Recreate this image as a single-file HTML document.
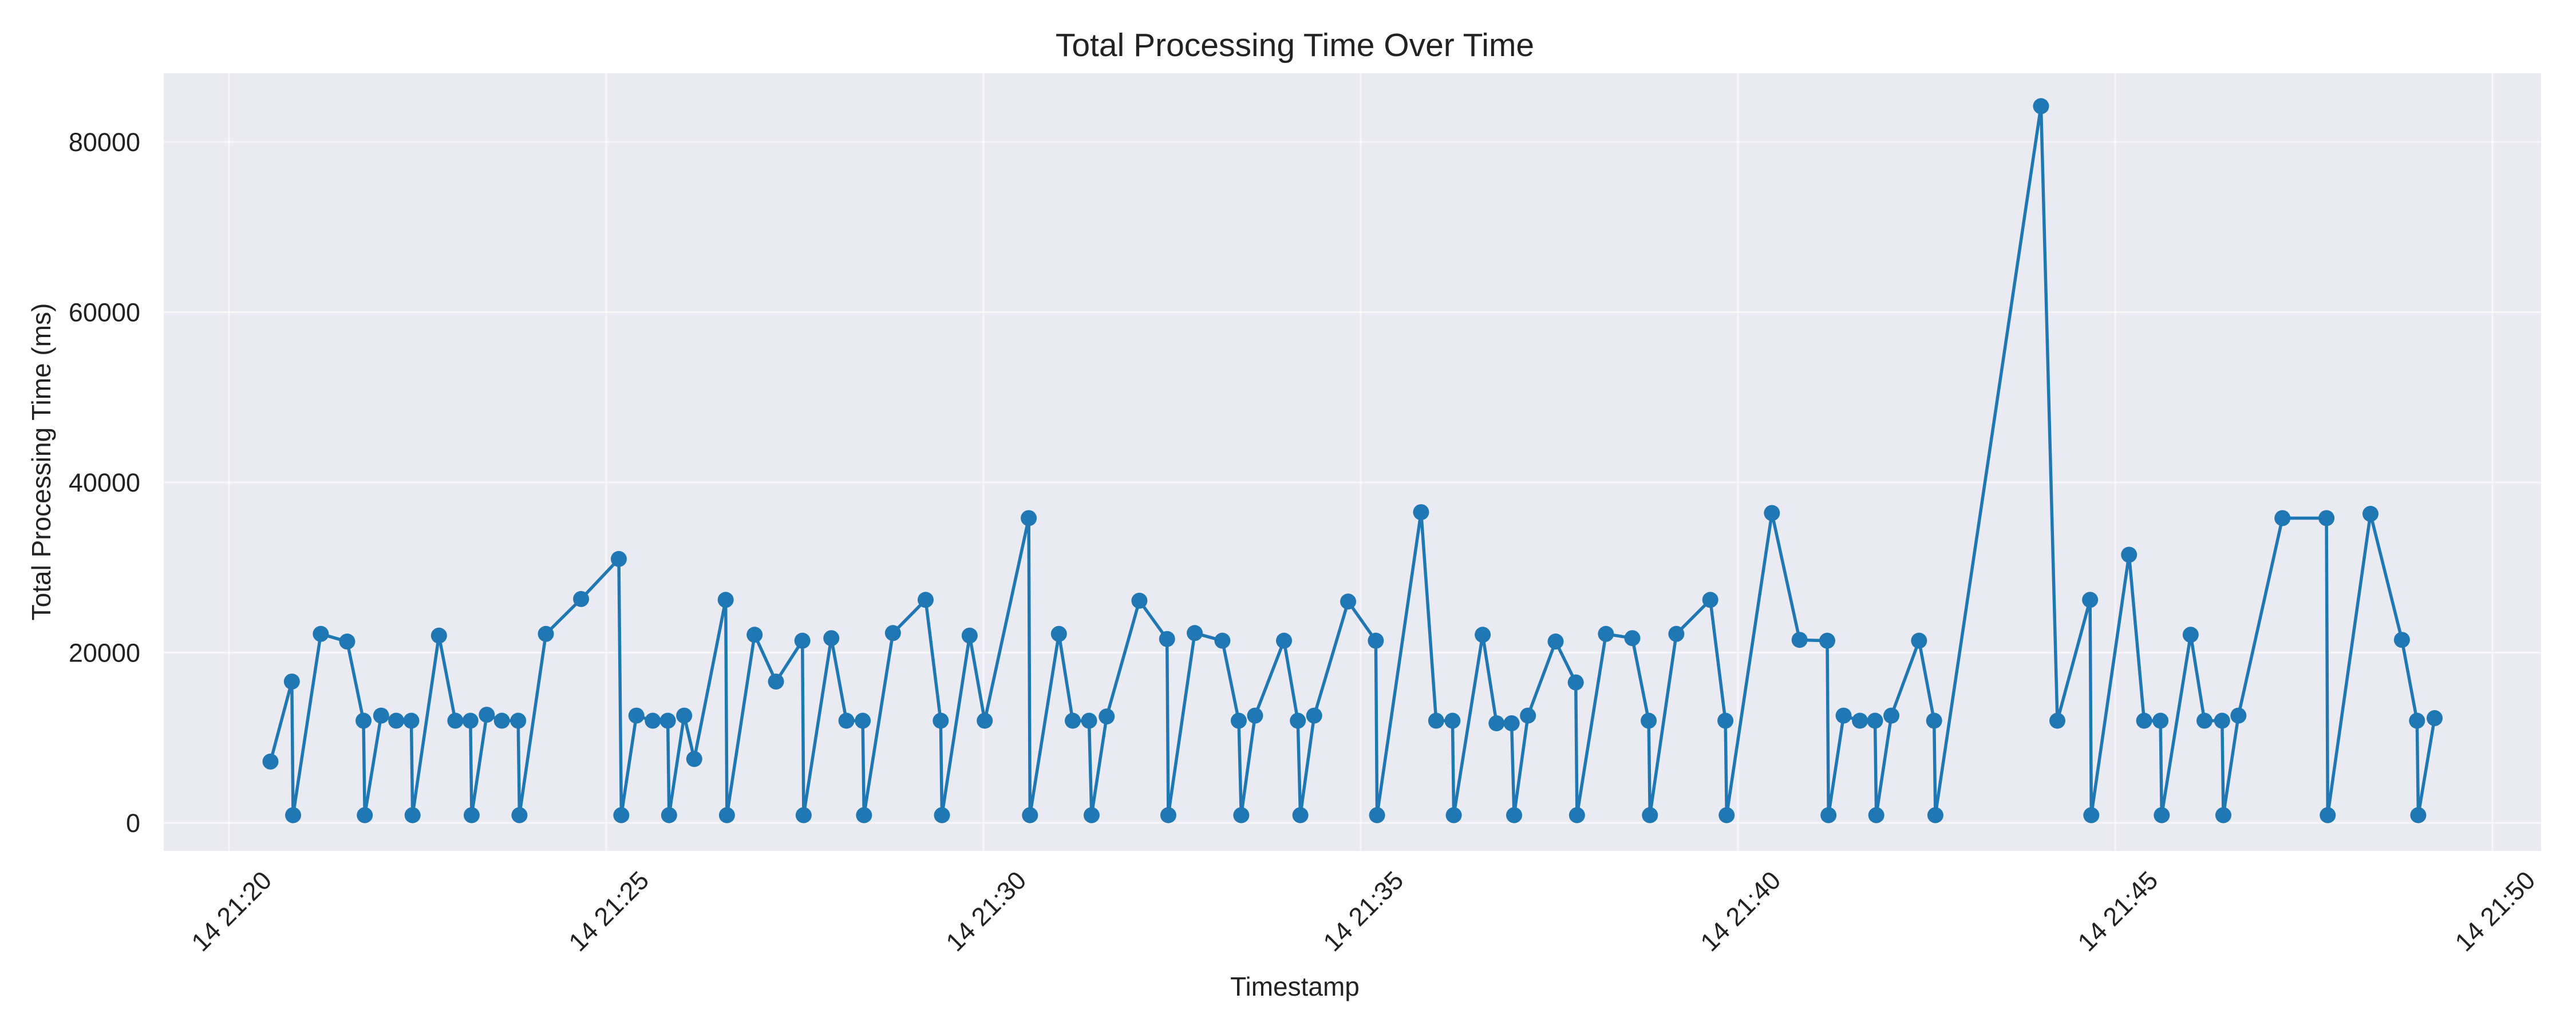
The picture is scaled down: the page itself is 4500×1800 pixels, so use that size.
<!DOCTYPE html>
<html><head><meta charset="utf-8"><style>
html,body{margin:0;padding:0;background:#fff;}
svg{display:block;font-family:"Liberation Sans",Arial,sans-serif;}
</style></head><body>
<svg id="chart" width="4500" height="1800" viewBox="0 0 4500 1800">
<rect x="286" y="128" width="4153" height="1359" fill="#EAEAF2"/>
<g id="grid"></g>
<g id="series"></g>
<g id="ticks"></g>
<text x="2262" y="98" font-size="57" text-anchor="middle" fill="#222">Total Processing Time Over Time</text>
<text x="2262" y="1740" font-size="46" text-anchor="middle" fill="#222">Timestamp</text>
<text x="0" y="0" font-size="46" text-anchor="middle" fill="#222" transform="translate(88,807) rotate(-90)">Total Processing Time (ms)</text>
</svg>
<script>
// seconds after 21:20:00
const timesSec = [33,50,51,73,94,107,108,121,133,145,146,167,180,192,193,205,217,230,231,252,280,310,312,324,337,349,350,362,370,395,396,418,435,456,457,479,491,504,505,528,554,566,567,589,601,636,637,660,671,684,686,698,724,746,747,768,790,803,805,816,839,850,852,863,890,912,913,948,960,973,974,997,1008,1020,1022,1033,1055,1071,1072,1095,1116,1129,1130,1151,1178,1190,1191,1227,1249,1271,1272,1284,1297,1309,1310,1322,1344,1356,1357,1441,1454,1480,1481,1511,1523,1536,1537,1560,1571,1585,1586,1598,1633,1668,1669,1703,1728,1740,1741,1754];
const valuesMs = [7200,16600,900,22200,21300,12000,900,12600,12000,12000,900,22000,12000,12000,900,12700,12000,12000,900,22200,26300,31000,900,12600,12000,12000,900,12600,7500,26200,900,22100,16600,21400,900,21700,12000,12000,900,22300,26200,12000,900,22000,12000,35800,900,22200,12000,12000,900,12500,26100,21600,900,22300,21400,12000,900,12600,21400,12000,900,12600,26000,21400,900,36500,12000,12000,900,22100,11700,11700,900,12600,21300,16500,900,22200,21700,12000,900,22200,26200,12000,900,36400,21500,21400,900,12600,12000,12000,900,12600,21400,12000,900,84200,12000,26200,900,31500,12000,12000,900,22100,12000,12000,900,12600,35800,35800,900,36300,21500,12000,900,12300];
const yTicks = [0,20000,40000,60000,80000];
const xTickSec = [0,300,600,900,1200,1500,1800];
const xTickLabels = ["14 21:20","14 21:25","14 21:30","14 21:35","14 21:40","14 21:45","14 21:50"];

const NS="http://www.w3.org/2000/svg";
const xs = s => 400 + s*2.1967;
const ys = v => 1438 - v*0.014875;
const grid=document.getElementById('grid'), series=document.getElementById('series'), ticks=document.getElementById('ticks');
function mk(tag, attrs){const e=document.createElementNS(NS,tag);for(const k in attrs)e.setAttribute(k,attrs[k]);return e;}

yTicks.forEach(v=>{
  const l=mk('line',{x1:286,x2:4439,y1:ys(v),y2:ys(v),stroke:'#fff','stroke-width':3,'stroke-opacity':0.55});
  
  
  grid.appendChild(l);
  const t=mk('text',{x:245,y:ys(v)+16,'font-size':45,'text-anchor':'end',fill:'#222'});
  t.textContent=v;
  
  
  ticks.appendChild(t);
});
xTickSec.forEach((s,i)=>{
  const l=mk('line',{x1:xs(s),x2:xs(s),y1:128,y2:1487,stroke:'#fff','stroke-width':3,'stroke-opacity':0.55});
  
  
  grid.appendChild(l);
  const t=mk('text',{x:0,y:16,'font-size':45,'text-anchor':'middle',fill:'#222',transform:`translate(${xs(s)+4},1592) rotate(-45)`});
  t.textContent=xTickLabels[i];
  
  
  ticks.appendChild(t);
});
const pts=timesSec.map((s,i)=>xs(s).toFixed(1)+','+ys(valuesMs[i]).toFixed(1)).join(' ');
const pl=mk('polyline',{points:pts,fill:'none',stroke:'#1f77b4','stroke-width':5.5,'stroke-linejoin':'round'});


series.appendChild(pl);
timesSec.forEach((s,i)=>{
  const c=mk('circle',{cx:xs(s),cy:ys(valuesMs[i]),r:14,fill:'#1f77b4'});
  
  
  series.appendChild(c);
});
</script>
</body></html>
